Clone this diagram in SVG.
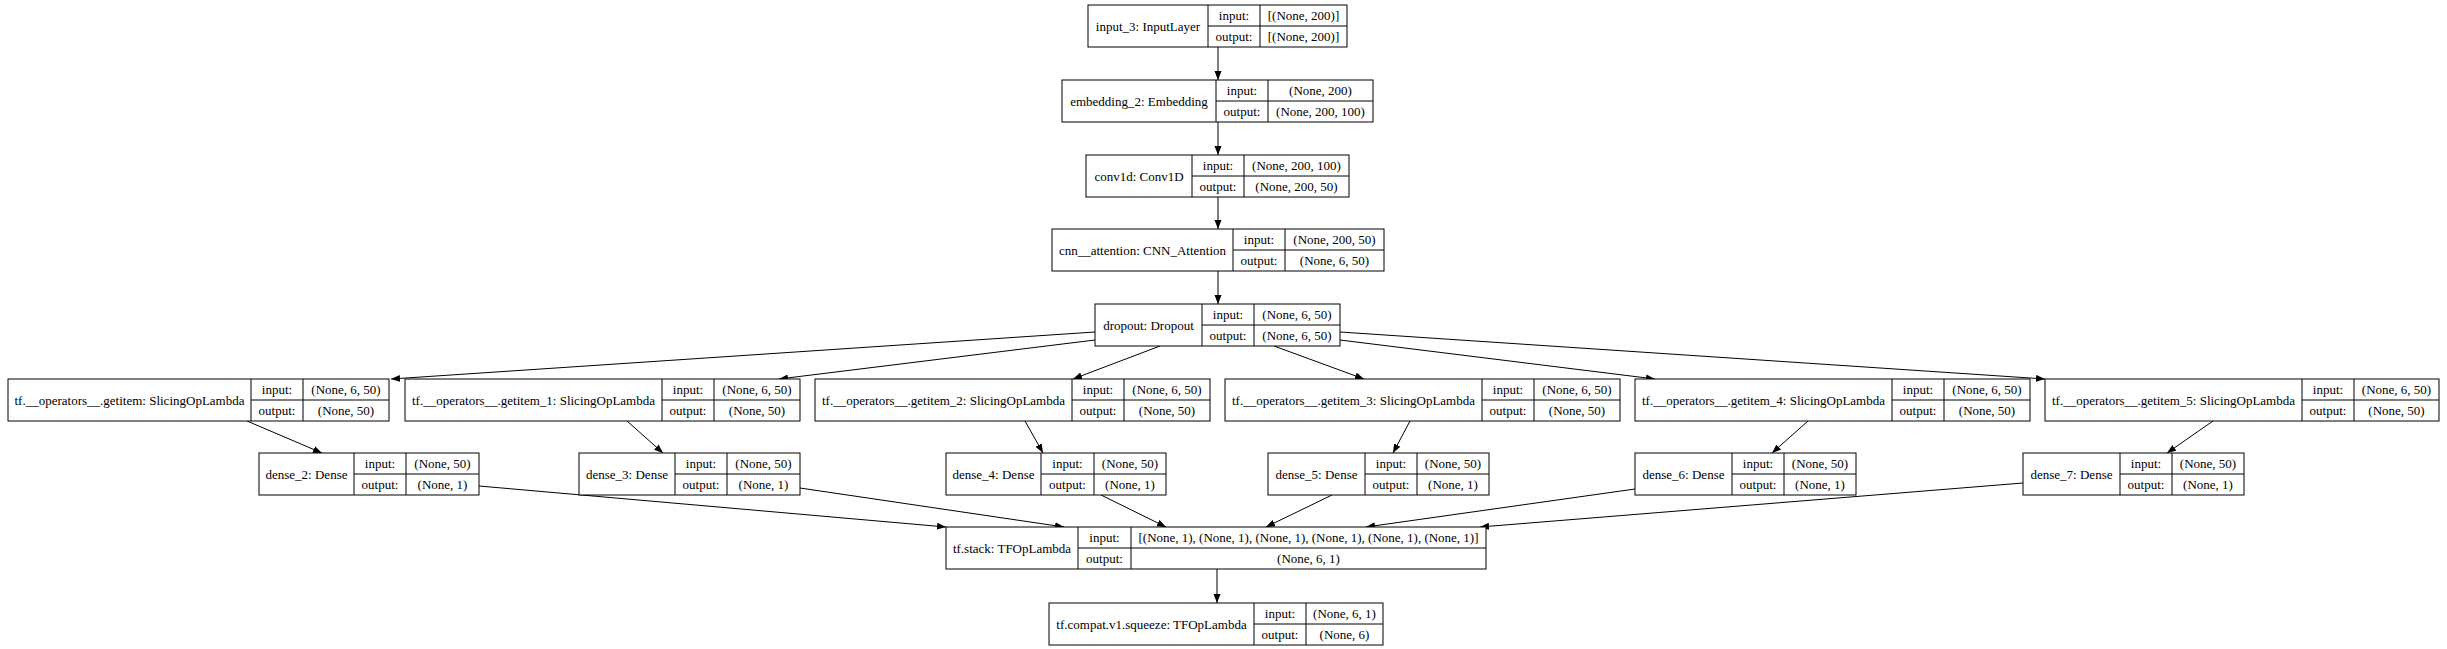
<svg xmlns="http://www.w3.org/2000/svg" width="2447" height="649" viewBox="0 0 2447 649">
<style>
.b{fill:#fff;stroke:#000;stroke-width:1}
.l{fill:none;stroke:#000;stroke-width:1}
text{font-family:"Liberation Serif","Times New Roman",serif;font-size:13px;fill:#000;text-anchor:middle}
.e line{stroke:#000;stroke-width:1;marker-end:url(#ah)}
</style>
<defs>
<marker id="ah" markerUnits="userSpaceOnUse" markerWidth="10" markerHeight="8" refX="9" refY="3.5" orient="auto">
<path d="M0,0 L9,3.5 L0,7 z" fill="#000"/>
</marker>
</defs>
<rect width="2447" height="649" fill="#fff"/>
<g class="e" id="connectors">
<line x1="1218" y1="47" x2="1218" y2="80"/>
<line x1="1218" y1="122" x2="1218" y2="155"/>
<line x1="1218" y1="197" x2="1218" y2="229"/>
<line x1="1218" y1="271" x2="1218" y2="304"/>
<line x1="1095" y1="332" x2="391" y2="379"/>
<line x1="1095" y1="340" x2="779" y2="379"/>
<line x1="1160" y1="346" x2="1073" y2="379"/>
<line x1="1274" y1="346" x2="1364" y2="379"/>
<line x1="1340" y1="340" x2="1655" y2="379"/>
<line x1="1340" y1="332" x2="2045" y2="379"/>
<line x1="247" y1="421" x2="322" y2="453"/>
<line x1="627" y1="421" x2="663" y2="453"/>
<line x1="1025" y1="421" x2="1043" y2="453"/>
<line x1="1410" y1="421" x2="1393" y2="453"/>
<line x1="1808" y1="421" x2="1772" y2="453"/>
<line x1="2213" y1="421" x2="2167" y2="453"/>
<line x1="479" y1="486" x2="946" y2="527"/>
<line x1="800" y1="488" x2="1064" y2="527"/>
<line x1="1101" y1="495" x2="1166" y2="527"/>
<line x1="1332" y1="495" x2="1266" y2="527"/>
<line x1="1635" y1="489" x2="1366" y2="527"/>
<line x1="2023" y1="483" x2="1480" y2="527"/>
<line x1="1217" y1="569" x2="1217" y2="603"/>
</g>
<g id="input_3">
<rect class="b" x="1088" y="5" width="259" height="42"/>
<path class="l" d="M1208,5V47M1260,5V47M1208,26H1347"/>
<text x="1148" y="30.5">input_3: InputLayer</text>
<text x="1234" y="20">input:</text><text x="1234" y="41">output:</text>
<text x="1303.5" y="20">[(None, 200)]</text><text x="1303.5" y="41">[(None, 200)]</text>
</g>
<g id="embedding_2">
<rect class="b" x="1062" y="80" width="311" height="42"/>
<path class="l" d="M1216,80V122M1268,80V122M1216,101H1373"/>
<text x="1139" y="105.5">embedding_2: Embedding</text>
<text x="1242" y="95">input:</text><text x="1242" y="116">output:</text>
<text x="1320.5" y="95">(None, 200)</text><text x="1320.5" y="116">(None, 200, 100)</text>
</g>
<g id="conv1d">
<rect class="b" x="1086" y="155" width="263" height="42"/>
<path class="l" d="M1192,155V197M1244,155V197M1192,176H1349"/>
<text x="1139" y="180.5">conv1d: Conv1D</text>
<text x="1218" y="170">input:</text><text x="1218" y="191">output:</text>
<text x="1296.5" y="170">(None, 200, 100)</text><text x="1296.5" y="191">(None, 200, 50)</text>
</g>
<g id="cnn__attention">
<rect class="b" x="1052" y="229" width="332" height="42"/>
<path class="l" d="M1233,229V271M1285,229V271M1233,250H1384"/>
<text x="1142.5" y="254.5">cnn__attention: CNN_Attention</text>
<text x="1259" y="244">input:</text><text x="1259" y="265">output:</text>
<text x="1334.5" y="244">(None, 200, 50)</text><text x="1334.5" y="265">(None, 6, 50)</text>
</g>
<g id="dropout">
<rect class="b" x="1095" y="304" width="245" height="42"/>
<path class="l" d="M1202,304V346M1254,304V346M1202,325H1340"/>
<text x="1148.5" y="329.5">dropout: Dropout</text>
<text x="1228" y="319">input:</text><text x="1228" y="340">output:</text>
<text x="1297" y="319">(None, 6, 50)</text><text x="1297" y="340">(None, 6, 50)</text>
</g>
<g id="getitem">
<rect class="b" x="8" y="379" width="381" height="42"/>
<path class="l" d="M251,379V421M303,379V421M251,400H389"/>
<text x="129.5" y="404.5">tf.__operators__.getitem: SlicingOpLambda</text>
<text x="277" y="394">input:</text><text x="277" y="415">output:</text>
<text x="346" y="394">(None, 6, 50)</text><text x="346" y="415">(None, 50)</text>
</g>
<g id="getitem_1">
<rect class="b" x="405" y="379" width="395" height="42"/>
<path class="l" d="M662,379V421M714,379V421M662,400H800"/>
<text x="533.5" y="404.5">tf.__operators__.getitem_1: SlicingOpLambda</text>
<text x="688" y="394">input:</text><text x="688" y="415">output:</text>
<text x="757" y="394">(None, 6, 50)</text><text x="757" y="415">(None, 50)</text>
</g>
<g id="getitem_2">
<rect class="b" x="815" y="379" width="395" height="42"/>
<path class="l" d="M1072,379V421M1124,379V421M1072,400H1210"/>
<text x="943.5" y="404.5">tf.__operators__.getitem_2: SlicingOpLambda</text>
<text x="1098" y="394">input:</text><text x="1098" y="415">output:</text>
<text x="1167" y="394">(None, 6, 50)</text><text x="1167" y="415">(None, 50)</text>
</g>
<g id="getitem_3">
<rect class="b" x="1225" y="379" width="395" height="42"/>
<path class="l" d="M1482,379V421M1534,379V421M1482,400H1620"/>
<text x="1353.5" y="404.5">tf.__operators__.getitem_3: SlicingOpLambda</text>
<text x="1508" y="394">input:</text><text x="1508" y="415">output:</text>
<text x="1577" y="394">(None, 6, 50)</text><text x="1577" y="415">(None, 50)</text>
</g>
<g id="getitem_4">
<rect class="b" x="1635" y="379" width="395" height="42"/>
<path class="l" d="M1892,379V421M1944,379V421M1892,400H2030"/>
<text x="1763.5" y="404.5">tf.__operators__.getitem_4: SlicingOpLambda</text>
<text x="1918" y="394">input:</text><text x="1918" y="415">output:</text>
<text x="1987" y="394">(None, 6, 50)</text><text x="1987" y="415">(None, 50)</text>
</g>
<g id="getitem_5">
<rect class="b" x="2045" y="379" width="394" height="42"/>
<path class="l" d="M2302,379V421M2354,379V421M2302,400H2439"/>
<text x="2173.5" y="404.5">tf.__operators__.getitem_5: SlicingOpLambda</text>
<text x="2328" y="394">input:</text><text x="2328" y="415">output:</text>
<text x="2396.5" y="394">(None, 6, 50)</text><text x="2396.5" y="415">(None, 50)</text>
</g>
<g id="dense_2">
<rect class="b" x="259" y="453" width="220" height="42"/>
<path class="l" d="M354,453V495M406,453V495M354,474H479"/>
<text x="306.5" y="478.5">dense_2: Dense</text>
<text x="380" y="468">input:</text><text x="380" y="489">output:</text>
<text x="442.5" y="468">(None, 50)</text><text x="442.5" y="489">(None, 1)</text>
</g>
<g id="dense_3">
<rect class="b" x="579" y="453" width="221" height="42"/>
<path class="l" d="M675,453V495M727,453V495M675,474H800"/>
<text x="627" y="478.5">dense_3: Dense</text>
<text x="701" y="468">input:</text><text x="701" y="489">output:</text>
<text x="763.5" y="468">(None, 50)</text><text x="763.5" y="489">(None, 1)</text>
</g>
<g id="dense_4">
<rect class="b" x="946" y="453" width="220" height="42"/>
<path class="l" d="M1041,453V495M1094,453V495M1041,474H1166"/>
<text x="993.5" y="478.5">dense_4: Dense</text>
<text x="1067.5" y="468">input:</text><text x="1067.5" y="489">output:</text>
<text x="1130" y="468">(None, 50)</text><text x="1130" y="489">(None, 1)</text>
</g>
<g id="dense_5">
<rect class="b" x="1268" y="453" width="221" height="42"/>
<path class="l" d="M1365,453V495M1417,453V495M1365,474H1489"/>
<text x="1316.5" y="478.5">dense_5: Dense</text>
<text x="1391" y="468">input:</text><text x="1391" y="489">output:</text>
<text x="1453" y="468">(None, 50)</text><text x="1453" y="489">(None, 1)</text>
</g>
<g id="dense_6">
<rect class="b" x="1635" y="453" width="221" height="42"/>
<path class="l" d="M1732,453V495M1784,453V495M1732,474H1856"/>
<text x="1683.5" y="478.5">dense_6: Dense</text>
<text x="1758" y="468">input:</text><text x="1758" y="489">output:</text>
<text x="1820" y="468">(None, 50)</text><text x="1820" y="489">(None, 1)</text>
</g>
<g id="dense_7">
<rect class="b" x="2023" y="453" width="221" height="42"/>
<path class="l" d="M2120,453V495M2172,453V495M2120,474H2244"/>
<text x="2071.5" y="478.5">dense_7: Dense</text>
<text x="2146" y="468">input:</text><text x="2146" y="489">output:</text>
<text x="2208" y="468">(None, 50)</text><text x="2208" y="489">(None, 1)</text>
</g>
<g id="tf_stack">
<rect class="b" x="946" y="527" width="540" height="42"/>
<path class="l" d="M1078,527V569M1131,527V569M1078,548H1486"/>
<text x="1012" y="552.5">tf.stack: TFOpLambda</text>
<text x="1104.5" y="542">input:</text><text x="1104.5" y="563">output:</text>
<text x="1308.5" y="542">[(None, 1), (None, 1), (None, 1), (None, 1), (None, 1), (None, 1)]</text>
<text x="1308.5" y="563">(None, 6, 1)</text>
</g>
<g id="tf_compat_v1_squeeze">
<rect class="b" x="1049" y="603" width="334" height="42"/>
<path class="l" d="M1254,603V645M1306,603V645M1254,624H1383"/>
<text x="1151.5" y="628.5">tf.compat.v1.squeeze: TFOpLambda</text>
<text x="1280" y="618">input:</text><text x="1280" y="639">output:</text>
<text x="1344.5" y="618">(None, 6, 1)</text><text x="1344.5" y="639">(None, 6)</text>
</g>
</svg>
